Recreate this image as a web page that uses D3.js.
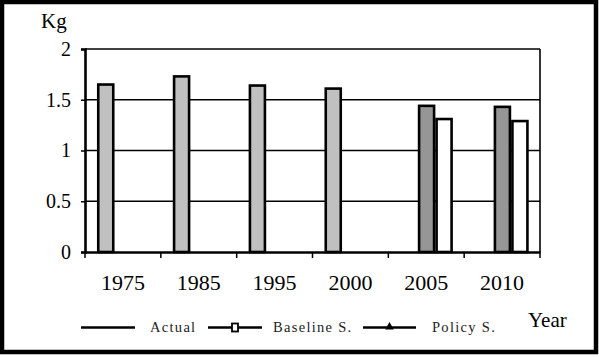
<!DOCTYPE html>
<html><head><meta charset="utf-8">
<script src="https://cdn.jsdelivr.net/npm/d3@7"></script>
<style>html,body{margin:0;padding:0;background:#fff}svg{display:block}</style>
</head><body>
<script>
const years = ["1975","1985","1995","2000","2005","2010"];
const seriesNames = ["Actual","Baseline S.","Policy S."];
const actual   = [1.65, 1.73, 1.64, 1.61, null, null];
const baseline = [null, null, null, null, 1.44, 1.43];
const policy   = [null, null, null, null, 1.31, 1.29];
const yTicks = [0, 0.5, 1, 1.5, 2];
const yTickLabels = ["0","0.5","1","1.5","2"];
const seriesValues = [actual, baseline, policy];
const seriesFill = ["#c0c0c0", "#969696", "#ffffff"];

(function () {
const FONT = '"Liberation Serif", "Times New Roman", serif';
const W = 599, H = 357;
const svg = d3.select("body").append("svg").attr("width", W).attr("height", H);
svg.append("rect").attr("width", W).attr("height", H).attr("fill", "#fff");

const pLeft = 85, pRight = 540, pTop = 49, pBottom = 252;
const x = d3.scaleBand().domain(years).range([pLeft, pRight]).padding(0);
const x1 = d3.scaleBand().domain(seriesNames).range([12, 64.5]).padding(0);
const y = d3.scaleLinear().domain([0, 2]).range([pBottom, pTop]);

// gridlines
svg.append("g").selectAll("line").data(yTicks.filter(d => d > 0 && d < 2)).join("line")
  .attr("x1", pLeft).attr("x2", pRight).attr("y1", d => y(d)).attr("y2", d => y(d))
  .attr("stroke", "#000").attr("stroke-width", 1.5);
// top & right frame
svg.append("line").attr("x1", pLeft).attr("x2", pRight).attr("y1", y(2)).attr("y2", y(2)).attr("stroke", "#000").attr("stroke-width", 1.6);
svg.append("line").attr("x1", pRight).attr("x2", pRight).attr("y1", y(2)).attr("y2", pBottom).attr("stroke", "#000").attr("stroke-width", 1.6);

// bars
const bw = x1.bandwidth();
seriesValues.forEach((vals, si) => {
  svg.append("g").selectAll("rect").data(years.map((yr, i) => ({yr, v: vals[i]})).filter(d => d.v != null)).join("rect")
    .attr("x", d => x(d.yr) + x1(seriesNames[si]) + 1.25)
    .attr("width", bw - 2.5)
    .attr("y", d => y(d.v))
    .attr("height", d => pBottom - y(d.v))
    .attr("fill", seriesFill[si]).attr("stroke", "#000").attr("stroke-width", 2.6);
});

// y axis
const yAxis = svg.append("g").attr("transform", `translate(${pLeft},0)`)
  .call(d3.axisLeft(y).tickValues(yTicks).tickFormat((d, i) => yTickLabels[i]).tickSize(4).tickPadding(10));
yAxis.select(".domain").attr("stroke", "#000").attr("stroke-width", 2.6);
yAxis.selectAll(".tick line").attr("stroke", "#000").attr("stroke-width", 1.5);
yAxis.selectAll("text").style("font-family", FONT).attr("font-size", 20).attr("fill", "#000");

// x axis
const xAxis = svg.append("g").attr("transform", `translate(0,${pBottom})`)
  .call(d3.axisBottom(x).tickSize(0).tickPadding(22));
xAxis.select(".domain").attr("stroke", "#000").attr("stroke-width", 2.6);
xAxis.selectAll("text").style("font-family", FONT).attr("font-size", 22).attr("fill", "#000");
// x tick marks at band boundaries
xAxis.append("g").selectAll("line").data(years.map(d => x(d)).concat([pRight])).join("line")
  .attr("x1", d => d).attr("x2", d => d).attr("y1", 0).attr("y2", 6)
  .attr("stroke", "#000").attr("stroke-width", 1.5);

// axis titles
svg.append("text").attr("x", 41).attr("y", 28).text("Kg").style("font-family", FONT)
  .attr("font-size", 21).attr("fill", "#000");
svg.append("text").attr("x", 528).attr("y", 327).text("Year").style("font-family", FONT)
  .attr("font-size", 21).attr("fill", "#000");

// legend
const ly = 327.5;
const lg = svg.append("g");
const legendItems = [
  {name: seriesNames[0], x0: 81, x1: 135, tx: 150, marker: null},
  {name: seriesNames[1], x0: 208, x1: 262, tx: 273, marker: "square"},
  {name: seriesNames[2], x0: 363, x1: 416, tx: 432, marker: "triangle"}
];
legendItems.forEach(it => {
  lg.append("line").attr("x1", it.x0).attr("x2", it.x1).attr("y1", ly).attr("y2", ly)
    .attr("stroke", "#000").attr("stroke-width", 2.6);
  const cx = (it.x0 + it.x1) / 2;
  if (it.marker === "square") {
    lg.append("rect").attr("x", cx - 3).attr("y", ly - 4).attr("width", 6).attr("height", 8)
      .attr("fill", "#fff").attr("stroke", "#000").attr("stroke-width", 1.8);
  } else if (it.marker === "triangle") {
    lg.append("path").attr("d", d3.symbol(d3.symbolTriangle, 32)()).attr("transform", `translate(${cx},${ly - 0.5})`)
      .attr("fill", "#000");
  }
  lg.append("text").attr("x", it.tx).attr("y", 331.5).text(it.name).style("font-family", FONT)
    .attr("font-size", 14.5).attr("letter-spacing", 1.3).attr("fill", "#222");
});

// outer frame
svg.append("rect").attr("x", 2).attr("y", 2).attr("width", 594).attr("height", 350)
  .attr("fill", "none").attr("stroke", "#000").attr("stroke-width", 4.5);
})();
</script>
</body></html>
